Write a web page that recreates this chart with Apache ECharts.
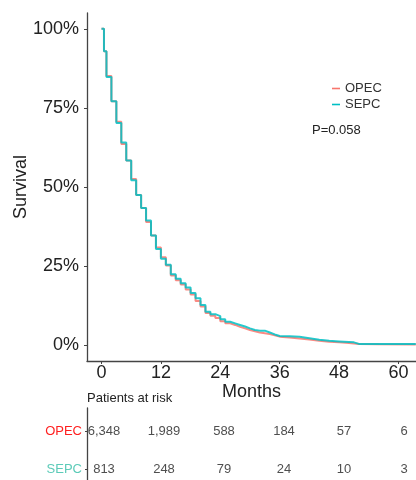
<!doctype html>
<html lang="en">
<head>
<meta charset="UTF-8">
<title>Survival OPEC vs SEPC</title>
<style>
    html, body {margin: 0; padding: 0; background: #fff;}
    #main {width: 416px; height: 480px;}
</style>
</head>
<body>
<div id="main"></div>
<script type="text/javascript" src="https://cdn.jsdelivr.net/npm/echarts@6/dist/echarts.min.js"></script>
<script type="text/javascript">
    // Kaplan-Meier curves (months -> proportion surviving)
    let months = [0, 0.5, 1, 2, 3, 4, 5, 6, 7, 8, 9, 10, 11, 12, 13, 14, 15, 16, 17, 18, 19, 20,
        21, 22, 23, 24, 25, 26, 27, 28, 29, 30, 31, 32, 33, 34, 35, 36, 38, 40, 42, 44, 46, 48,
        50, 51, 52, 56, 63.5];
    let opec = [1.000, 0.929, 0.851, 0.771, 0.706, 0.636, 0.584, 0.525, 0.475, 0.434, 0.389,
        0.347, 0.309, 0.278, 0.252, 0.220, 0.205, 0.192, 0.176, 0.160, 0.140, 0.122, 0.102,
        0.093, 0.086, 0.076, 0.069, 0.064, 0.058, 0.053, 0.048, 0.044, 0.040, 0.038, 0.035,
        0.031, 0.027, 0.024, 0.021, 0.018, 0.014, 0.011, 0.009, 0.007, 0.005, 0.004, 0.003,
        0.002, 0.001];
    let sepc = [1.000, 0.929, 0.848, 0.771, 0.702, 0.641, 0.584, 0.521, 0.475, 0.434, 0.394,
        0.347, 0.304, 0.273, 0.254, 0.224, 0.210, 0.196, 0.182, 0.165, 0.148, 0.127, 0.106,
        0.098, 0.092, 0.082, 0.074, 0.069, 0.064, 0.059, 0.053, 0.048, 0.046, 0.046, 0.040,
        0.034, 0.029, 0.028, 0.027, 0.022, 0.017, 0.014, 0.012, 0.010, 0.009, 0.004, 0.004,
        0.004, 0.004];
    let xTicks = [0, 12, 24, 36, 48, 60];
    let yTicks = [0, 0.25, 0.5, 0.75, 1];

    // patients at risk table
    let riskTimes = [0, 12, 24, 36, 48, 60];
    let opecRisk = [6348, 1989, 588, 184, 57, 6];
    let sepcRisk = [813, 248, 79, 24, 10, 3];

    let font = '"Liberation Sans", Arial, Helvetica, sans-serif';
    let axisCol = '#444';

    let myChart = echarts.init(document.getElementById('main'));

    function pairs(xs, ys) {
        return xs.map(function (x, i) { return [x, ys[i]]; });
    }
    let riskData = [];
    for (let i = 0; i < riskTimes.length; i++) {
        riskData.push([riskTimes[i], 1, opecRisk[i]]);
        riskData.push([riskTimes[i], 0, sepcRisk[i]]);
    }

    let option = {
        animation: false,
        backgroundColor: '#fff',
        textStyle: {fontFamily: font},
        grid: [
            {left: 87, top: 13, width: 329, height: 348, outerBoundsMode: 'none', containLabel: false},
            {left: 87, top: 408, width: 329, height: 72, outerBoundsMode: 'none', containLabel: false}
        ],
        legend: {
            data: ['OPEC', 'SEPC'],
            orient: 'vertical',
            left: 327, top: 77,
            icon: 'rect',
            itemWidth: 8, itemHeight: 1.6, itemGap: 3,
            textStyle: {fontSize: 13, color: '#333', fontFamily: font}
        },
        xAxis: [{
            type: 'value', gridIndex: 0, min: -2.93, max: 63.54,
            name: 'Months', nameLocation: 'middle', nameGap: 22, nameMoveOverlap: false,
            nameTextStyle: {fontSize: 18, color: '#222', fontFamily: font},
            splitLine: {show: false},
            axisLine: {onZero: false, lineStyle: {color: axisCol, width: 1.3}},
            axisTick: {customValues: xTicks, length: 3, lineStyle: {color: axisCol}},
            axisLabel: {customValues: xTicks, fontSize: 18, color: '#222', margin: 3}
        }, {
            type: 'value', gridIndex: 1, min: -3.4, max: 62.4, show: false,
            axisLine: {onZero: false}
        }],
        yAxis: [{
            type: 'value', gridIndex: 0, min: -0.05, max: 1.05,
            name: 'Survival', nameLocation: 'middle', nameGap: 57, nameMoveOverlap: false,
            nameTextStyle: {fontSize: 18, color: '#222', fontFamily: font},
            splitLine: {show: false},
            axisLine: {show: true, onZero: false, lineStyle: {color: axisCol, width: 1.3}},
            axisTick: {show: true, customValues: yTicks, length: 3, lineStyle: {color: axisCol}},
            axisLabel: {
                customValues: yTicks, fontSize: 18, color: '#222', margin: 8,
                formatter: function (v) { return Math.round(v * 100) + '%'; }
            }
        }, {
            type: 'value', gridIndex: 1, min: -0.29, max: 1.605,
            splitLine: {show: false},
            axisLine: {show: true, onZero: false, lineStyle: {color: axisCol, width: 1.3}},
            axisTick: {show: true, customValues: [0, 1], length: 2, lineStyle: {color: axisCol}},
            axisLabel: {
                customValues: [0, 1], margin: 5,
                formatter: function (v) { return v === 1 ? '{o|OPEC}' : '{s|SEPC}'; },
                rich: {
                    o: {fontSize: 13, color: '#ff1f1f', fontFamily: font},
                    s: {fontSize: 13, color: '#5ccbb8', fontFamily: font}
                }
            }
        }],
        graphic: [
            {type: 'text', left: 312, top: 124, style: {text: 'P=0.058', font: '13px ' + font, fill: '#222'}},
            {type: 'text', left: 87, top: 392, style: {text: 'Patients at risk', font: '13px ' + font, fill: '#222'}}
        ],
        series: [{
            name: 'OPEC', type: 'line', step: 'end', xAxisIndex: 0, yAxisIndex: 0,
            symbol: 'none', color: '#F8766D',
            lineStyle: {width: 2, opacity: 0.85},
            data: pairs(months, opec)
        }, {
            name: 'SEPC', type: 'line', step: 'end', xAxisIndex: 0, yAxisIndex: 0,
            symbol: 'none', color: '#00BFC4',
            lineStyle: {width: 2, opacity: 0.85},
            data: pairs(months, sepc)
        }, {
            name: 'risk', type: 'scatter', xAxisIndex: 1, yAxisIndex: 1,
            symbolSize: 1, itemStyle: {color: 'rgba(0,0,0,0)'},
            label: {
                show: true, position: 'inside', fontSize: 13, color: '#222', fontFamily: font,
                formatter: function (p) { return p.value[2].toLocaleString('en-US'); }
            },
            data: riskData
        }]
    };
    myChart.setOption(option);
</script>
</body>
</html>
